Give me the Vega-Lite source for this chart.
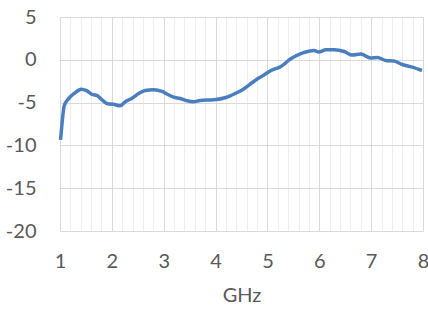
{
  "$schema": "https://vega.github.io/schema/vega-lite/v6.json",
  "autosize": {"type": "none"},
  "width": 363,
  "height": 214,
  "padding": {"left": 60, "top": 17, "right": 5, "bottom": 80},
  "background": "white",
  "config": {"view": {"stroke": null}},
  "data": {"values": [
    {"ghz": 1.01, "v": -9.35},
    {"ghz": 1.04, "v": -7.4},
    {"ghz": 1.08, "v": -5.4},
    {"ghz": 1.17, "v": -4.5},
    {"ghz": 1.28, "v": -3.9},
    {"ghz": 1.41, "v": -3.43},
    {"ghz": 1.51, "v": -3.6},
    {"ghz": 1.62, "v": -4.05},
    {"ghz": 1.71, "v": -4.15},
    {"ghz": 1.81, "v": -4.67},
    {"ghz": 1.92, "v": -5.14},
    {"ghz": 2.03, "v": -5.2},
    {"ghz": 2.16, "v": -5.37},
    {"ghz": 2.26, "v": -4.9},
    {"ghz": 2.39, "v": -4.48},
    {"ghz": 2.51, "v": -3.97},
    {"ghz": 2.64, "v": -3.58},
    {"ghz": 2.8, "v": -3.5},
    {"ghz": 2.97, "v": -3.7},
    {"ghz": 3.06, "v": -4.0},
    {"ghz": 3.19, "v": -4.36},
    {"ghz": 3.32, "v": -4.52},
    {"ghz": 3.45, "v": -4.79},
    {"ghz": 3.57, "v": -4.9},
    {"ghz": 3.7, "v": -4.75},
    {"ghz": 3.97, "v": -4.67},
    {"ghz": 4.2, "v": -4.4},
    {"ghz": 4.39, "v": -3.9},
    {"ghz": 4.52, "v": -3.5},
    {"ghz": 4.65, "v": -2.92},
    {"ghz": 4.81, "v": -2.22},
    {"ghz": 4.94, "v": -1.75},
    {"ghz": 5.07, "v": -1.25},
    {"ghz": 5.26, "v": -0.78},
    {"ghz": 5.45, "v": 0.12},
    {"ghz": 5.67, "v": 0.78},
    {"ghz": 5.9, "v": 1.09},
    {"ghz": 5.99, "v": 0.9},
    {"ghz": 6.13, "v": 1.17},
    {"ghz": 6.29, "v": 1.17},
    {"ghz": 6.48, "v": 0.97},
    {"ghz": 6.64, "v": 0.55},
    {"ghz": 6.8, "v": 0.67},
    {"ghz": 6.99, "v": 0.2},
    {"ghz": 7.12, "v": 0.27},
    {"ghz": 7.28, "v": -0.08},
    {"ghz": 7.44, "v": -0.15},
    {"ghz": 7.6, "v": -0.55},
    {"ghz": 7.79, "v": -0.85},
    {"ghz": 7.98, "v": -1.25}
  ]},
  "mark": {"type": "line", "color": "#4A7EBE", "strokeWidth": 3.5, "interpolate": "monotone"},
  "encoding": {
    "x": {
      "field": "ghz", "type": "quantitative",
      "scale": {"domain": [1, 8], "nice": false, "zero": false},
      "axis": {
        "title": "GHz",
        "values": [1,1.2,1.4,1.6,1.8,2,2.2,2.4,2.6,2.8,3,3.2,3.4,3.6,3.8,4,4.2,4.4,4.6,4.8,5,5.2,5.4,5.6,5.8,6,6.2,6.4,6.6,6.8,7,7.2,7.4,7.6,7.8,8],
        "labelExpr": "abs(datum.value - round(datum.value)) < 0.001 ? '' + round(datum.value) : ''",
        "labelOverlap": false,
        "labelFlush": false,
        "grid": true,
        "gridColor": {"condition": {"test": "abs(datum.value - round(datum.value)) < 0.001", "value": "#d9d9d9"}, "value": "#eeeeee"},
        "gridWidth": 1,
        "domain": false,
        "ticks": false,
        "labelPadding": 20,
        "labelFont": "Lato",
        "labelFontSize": 20,
        "labelColor": "#595959",
        "titleFont": "Lato",
        "titleFontSize": 20,
        "titleFontWeight": "normal",
        "titleColor": "#595959",
        "titlePadding": 14
      }
    },
    "y": {
      "field": "v", "type": "quantitative",
      "scale": {"domain": [-20, 5], "nice": false, "zero": false},
      "axis": {
        "title": null,
        "values": [-20, -15, -10, -5, 0, 5],
        "labelExpr": "'' + datum.value",
        "grid": true,
        "gridColor": "#d9d9d9",
        "domain": false,
        "ticks": false,
        "labelPadding": 24,
        "labelFont": "Lato",
        "labelFontSize": 20,
        "labelColor": "#595959"
      }
    }
  }
}
